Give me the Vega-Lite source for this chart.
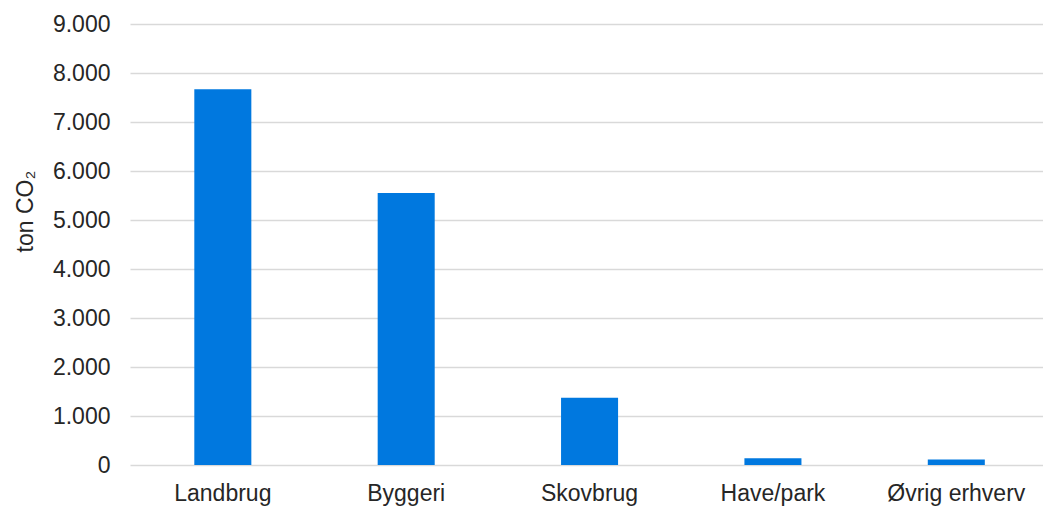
{
  "$schema": "https://vega.github.io/schema/vega-lite/v6.json",
  "width": 913,
  "height": 441,
  "autosize": {"type": "none"},
  "padding": {"left": 130, "top": 24, "right": 0, "bottom": 42},
  "background": "white",
  "config": {"view": {"stroke": null}, "font": "Liberation Sans"},
  "data": {
    "values": [
      {"sektor": "Landbrug", "co2": 7670},
      {"sektor": "Byggeri", "co2": 5550},
      {"sektor": "Skovbrug", "co2": 1370},
      {"sektor": "Have/park", "co2": 140},
      {"sektor": "Øvrig erhverv", "co2": 110}
    ]
  },
  "mark": {"type": "bar", "color": "#0078DF"},
  "encoding": {
    "x": {
      "field": "sektor",
      "type": "nominal",
      "sort": null,
      "scale": {"paddingInner": 0.689, "paddingOuter": 0.334, "align": 0.525},
      "axis": {
        "title": null,
        "labelAngle": 0,
        "labelFont": "Liberation Sans",
        "labelFontSize": 23,
        "labelColor": "#262626",
        "labelPadding": 17,
        "ticks": false,
        "domain": false,
        "grid": false
      }
    },
    "y": {
      "field": "co2",
      "type": "quantitative",
      "scale": {"domain": [0, 9000]},
      "axis": {
        "values": [0, 1000, 2000, 3000, 4000, 5000, 6000, 7000, 8000, 9000],
        "format": ",d",
        "labelExpr": "replace(datum.label, ',', '.')",
        "title": "ton CO₂",
        "titleFont": "Liberation Sans",
        "titleFontSize": 23,
        "titleFontWeight": "normal",
        "titleColor": "#262626",
        "titleX": -105,
        "titleY": 187,
        "titleAngle": -90,
        "titleAlign": "center",
        "titleBaseline": "middle",
        "labelFont": "Liberation Sans",
        "labelFontSize": 23,
        "labelColor": "#262626",
        "labelPadding": 20,
        "ticks": false,
        "domain": false,
        "grid": true,
        "gridColor": "#D9D9D9",
        "gridWidth": 1.5
      }
    }
  }
}
